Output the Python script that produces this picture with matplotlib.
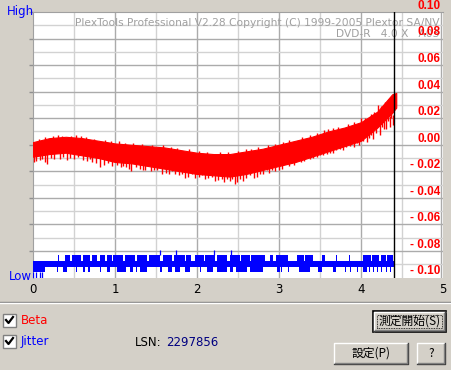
import matplotlib
matplotlib.use('Agg')
import matplotlib.pyplot as plt
from matplotlib.patches import Rectangle
from matplotlib.lines import Line2D
import numpy as np

W, H = 452, 370
BG = '#D4D0C8'

# beta band envelope
beta_x = [0, 0.2, 0.4, 0.6, 0.8, 1.0, 1.2, 1.4, 1.6, 1.8, 2.0, 2.2, 2.4, 2.6, 2.8,
          3.0, 3.2, 3.4, 3.6, 3.8, 4.0, 4.2, 4.38, 4.43]
beta_up = [0.002, 0.005, 0.006, 0.005, 0.003, 0.001, 0.000, -0.001, -0.002, -0.004,
           -0.006, -0.007, -0.007, -0.005, -0.003, 0.000, 0.003, 0.006, 0.010, 0.013,
           0.017, 0.025, 0.038, 0.039]
beta_low = [-0.009, -0.007, -0.006, -0.008, -0.010, -0.013, -0.014, -0.016, -0.018,
            -0.020, -0.022, -0.023, -0.024, -0.022, -0.019, -0.016, -0.013, -0.009,
            -0.005, -0.001, 0.003, 0.013, 0.024, 0.028]
# downward spikes of beta
spike_x = [0.012, 0.04, 0.085, 0.11, 0.146, 0.175, 0.22, 0.26, 0.33, 0.37, 0.41, 0.45,
           0.50, 0.55, 0.61, 0.66, 0.69, 0.72, 0.77, 0.82, 0.87, 0.92, 0.96, 1.02, 1.07,
           1.10, 1.14, 1.17, 1.20, 1.25, 1.30, 1.34, 1.37, 1.44, 1.47, 1.51, 1.57, 1.62,
           1.66, 1.70, 1.73, 1.78, 1.82, 1.85, 1.89, 1.94, 1.98, 2.02, 2.06, 2.10, 2.14,
           2.18, 2.22, 2.26, 2.30, 2.33, 2.36, 2.40, 2.43, 2.46, 2.49, 2.52, 2.56, 2.60,
           2.65, 2.69, 2.73, 2.77, 2.81, 2.85, 2.88, 2.91, 2.95, 3.00, 3.04, 3.09, 3.12,
           3.15, 3.18, 3.22, 3.27, 3.30, 3.34, 3.38, 3.42, 3.46, 3.50, 3.54, 3.58, 3.62,
           3.66, 3.70, 3.74, 3.78, 3.82, 3.86, 3.91, 3.95, 3.98, 4.03, 4.07, 4.10, 4.12,
           4.15, 4.18, 4.23, 4.26, 4.28, 4.31, 4.33, 4.35, 4.37, 4.39]
spike_val = [-0.013, -0.012, -0.0117, -0.011, -0.013, -0.0142, -0.010, -0.011, -0.0104,
             -0.009, -0.0112, -0.010, -0.011, -0.009, -0.0117, -0.012, -0.011, -0.013,
             -0.014, -0.0167, -0.015, -0.0137, -0.016, -0.0155, -0.017, -0.016, -0.0167,
             -0.018, -0.0198, -0.017, -0.018, -0.019, -0.0192, -0.020, -0.019, -0.0192,
             -0.0217, -0.021, -0.022, -0.020, -0.0217, -0.023, -0.022, -0.0248, -0.024,
             -0.0217, -0.025, -0.024, -0.023, -0.026, -0.025, -0.0243, -0.027, -0.0268,
             -0.026, -0.028, -0.0255, -0.027, -0.026, -0.0293, -0.028, -0.0255, -0.027,
             -0.025, -0.023, -0.025, -0.024, -0.0217, -0.022, -0.0192, -0.021, -0.0192,
             -0.020, -0.019, -0.018, -0.0142, -0.016, -0.0134, -0.015, -0.0117, -0.013,
             -0.012, -0.0079, -0.011, -0.010, -0.009, -0.008, -0.0079, -0.007, -0.006,
             -0.0059, -0.004, -0.003, -0.0042, -0.002, -0.001, -0.0017, 0.001, 0.000,
             0.003, 0.0021, 0.005, 0.007, 0.0047, 0.009, 0.0072, 0.013, 0.012, 0.0122,
             0.018, 0.0134, 0.020, 0.0147]
# upward spikes of beta
upspike_x = [0.07, 0.15, 0.24, 0.30, 0.35, 0.46, 0.52, 0.58, 0.65, 0.74, 0.88, 0.95,
             1.05, 1.12, 1.22, 1.33, 1.45, 1.58, 1.68, 1.76, 1.90, 2.02, 2.12, 2.28,
             2.38, 2.50, 2.60, 2.66, 2.74, 2.86, 2.95, 3.05, 3.12, 3.28, 3.38, 3.46,
             3.55, 3.60, 3.66, 3.72, 3.84, 3.92, 4.00, 4.05, 4.12, 4.16, 4.21, 4.25,
             4.29, 4.33]
upspike_val = [0.0045, 0.0055, 0.0065, 0.0075, 0.0068, 0.0068, 0.0070, 0.0063, 0.006,
               0.0045, 0.0035, 0.0025, 0.003, 0.0015, 0.0012, 0.0005, 0.000, -0.0005,
               -0.0015, -0.0025, -0.003, -0.0045, -0.0055, -0.0055, -0.0055, -0.005,
               -0.003, -0.0035, -0.002, -0.0005, 0.0005, 0.002, 0.0035, 0.0055, 0.0075,
               0.0085, 0.011, 0.012, 0.0125, 0.013, 0.0155, 0.017, 0.020, 0.020, 0.023,
               0.025, 0.0298, 0.029, 0.0323, 0.034]

# jitter (plotted in the same axis units as the picture shows it)
jit_x = [0.0, 4.42]
jit_top = [-0.0879, -0.0879]
jit_bot = [-0.0922, -0.0922]
jit_up_blocks = [(0.25, 0.26), (0.30, 0.31), (0.39, 0.45), (0.47, 0.59), (0.61, 0.70),
                 (0.72, 0.78), (0.82, 0.88), (0.90, 0.96), (0.98, 1.10), (1.12, 1.25),
                 (1.27, 1.39), (1.41, 1.55), (1.59, 1.70), (1.72, 1.85), (1.87, 1.93),
                 (1.98, 2.08), (2.10, 2.22), (2.24, 2.36), (2.40, 2.52), (2.54, 2.65),
                 (2.66, 2.83), (2.89, 2.93), (2.96, 3.11), (3.22, 3.30), (3.32, 3.42),
                 (3.52, 3.56), (3.70, 3.71), (3.85, 3.86), (4.03, 4.12), (4.14, 4.22),
                 (4.24, 4.30), (4.32, 4.39)]
jit_up_level = -0.0834
jit_peak_x = [1.55, 1.75, 2.21, 2.42]
jit_peak_level = -0.0796
jit_down_blocks = [(0.0, 0.146), (0.29, 0.30), (0.37, 0.41), (0.53, 0.54), (0.61, 0.63),
                   (0.67, 0.70), (0.82, 0.83), (0.90, 0.94), (1.02, 1.14), (1.18, 1.22),
                   (1.26, 1.27), (1.30, 1.39), (1.55, 1.57), (1.65, 1.69), (1.73, 1.79),
                   (1.85, 1.91), (2.04, 2.05), (2.12, 2.20), (2.24, 2.36), (2.40, 2.44),
                   (2.48, 2.61), (2.65, 2.81), (2.97, 3.01), (3.03, 3.04), (3.11, 3.12),
                   (3.24, 3.38), (3.48, 3.52), (3.66, 3.70), (3.80, 3.81), (3.87, 3.88),
                   (3.95, 3.96), (4.03, 4.07), (4.10, 4.11), (4.15, 4.16), (4.20, 4.21),
                   (4.25, 4.26), (4.30, 4.31), (4.35, 4.36), (4.40, 4.41)]
jit_down_level = -0.0962
jit_low_x = [0.0, 0.04, 0.08, 0.11]
jit_low_level = -0.1

marker_x = 4.406
x_ticks = [0, 1, 2, 3, 4, 5]
y_labels = [0.10, 0.08, 0.06, 0.04, 0.02, 0.00, -0.02, -0.04, -0.06, -0.08, -0.10]


def fx(px):
    return px / W


def fy(py):
    return 1 - py / H


fig = plt.figure(figsize=(W / 100, H / 100), dpi=100, facecolor=BG)
ax = fig.add_axes([fx(33), fy(277.5), fx(443) - fx(33), fy(12) - fy(277.5)])
ax.set_facecolor('white')
ax.set_xlim(0, 5)
ax.set_ylim(-0.1, 0.1)

# grid
for xv in np.arange(0.5, 5.0, 1.0):
    ax.axvline(xv, color='#D2D2D2', lw=1, zorder=0)
for xv in [1, 2, 3, 4]:
    ax.axvline(xv, color='#ABABAB', lw=1, zorder=0)
ax.axvline(4.98, color='#ABABAB', lw=1, zorder=0)
for i in range(-9, 10):
    yv = i * 0.01
    c = '#ABABAB' if i % 2 == 0 else '#D2D2D2'
    ax.axhline(yv, color=c, lw=1, zorder=0)

for s in ['bottom', 'right']:
    ax.spines[s].set_visible(False)
for s in ['left', 'top']:
    ax.spines[s].set_color('#A0A0A0')
ax.set_yticks(np.arange(-0.08, 0.1001, 0.02))
ax.set_yticklabels([])
ax.tick_params(axis='y', length=3, color='#909090', width=1)
ax.set_xticks(x_ticks)
ax.set_xticklabels([str(t) for t in x_ticks], fontsize=8.5)
ax.tick_params(axis='x', length=0, pad=4)

# watermark
ax.text(4.96, 0.0915, 'PlexTools Professional V2.28 Copyright (C) 1999-2005 Plextor SA/NV',
        ha='right', va='center', color='#A0A0A0', fontsize=7.65, zorder=1)
ax.text(4.96, 0.0832, 'DVD-R   4.0 X   A03', ha='right', va='center',
        color='#A0A0A0', fontsize=7.65, zorder=1)

# beta
ax.fill_between(beta_x, beta_low, beta_up, color='#FF0000', lw=0.8, edgecolor='#FF0000', zorder=3)
ax.vlines(spike_x, spike_val, np.array(spike_val) + 0.008, color='#FF0000', lw=1, zorder=3)
ax.vlines(upspike_x, np.array(upspike_val) - 0.006, upspike_val, color='#FF0000', lw=1, zorder=3)

# jitter
ax.fill_between(jit_x, jit_bot, jit_top, color='#0000FF', lw=0, zorder=3)
for a, b in jit_up_blocks:
    ax.bar(a, jit_top[0] - jit_up_level, width=max(b - a, 0.011), bottom=jit_up_level,
           align='edge', color='#0000FF', lw=0, zorder=3)
for a, b in jit_down_blocks:
    ax.bar(a, jit_bot[0] - jit_down_level, width=max(b - a, 0.011), bottom=jit_down_level,
           align='edge', color='#0000FF', lw=0, zorder=3)
ax.vlines(jit_peak_x, jit_peak_level, jit_up_level, color='#0000FF', lw=0.9, zorder=3)
ax.vlines(jit_low_x, jit_low_level, jit_down_level, color='#0000FF', lw=0.9, zorder=3)

ax.axvline(marker_x, color='black', lw=1, zorder=4)

# right-hand beta labels
for v in y_labels:
    if v < 0:
        lab = '- {:.2f}'.format(-v)
    else:
        lab = '{:.2f}'.format(v)
    ax.text(4.965, v + 0.0046, lab, ha='right', va='center', color='#FF0000',
            fontsize=8.5, fontweight='bold', family='Liberation Sans', zorder=5, clip_on=False)

fig.text(fx(7), fy(12), 'High', color='#0000FF', fontsize=8.5, va='center')
fig.text(fx(9), fy(276), 'Low', color='#0000FF', fontsize=8.5, va='center')

# separator
fig.add_artist(Line2D([0, 1], [fy(301.5), fy(301.5)], color='#808080', lw=1))
fig.add_artist(Line2D([0, 1], [fy(302.5), fy(302.5)], color='white', lw=1))


def checkbox(x, y):
    fig.add_artist(Rectangle((fx(x), fy(y + 13)), 13 / W, 13 / H, facecolor='white',
                             edgecolor='#808080', lw=1))
    fig.add_artist(Line2D([fx(x + 3), fx(x + 5.5), fx(x + 10)],
                          [fy(y + 6), fy(y + 9), fy(y + 3)], color='black', lw=1.6))


checkbox(3, 314)
checkbox(3, 335)
fig.text(fx(21), fy(321), 'Beta', color='#FF0000', fontsize=8.5, va='center')
fig.text(fx(21), fy(342), 'Jitter', color='#0000FF', fontsize=8.5, va='center')
fig.text(fx(135), fy(342), 'LSN:', color='black', fontsize=8.5, va='center')
fig.text(fx(166), fy(342), '2297856', color='#000080', fontsize=8.5, va='center')


def button(x0, y0, x1, y1, label, default=False):
    if default:
        fig.add_artist(Rectangle((fx(x0), fy(y1)), (x1 - x0) / W, (y1 - y0) / H,
                                 facecolor=BG, edgecolor='black', lw=1.2))
        x0, y0, x1, y1 = x0 + 1, y0 + 1, x1 - 1, y1 - 1
    fig.add_artist(Rectangle((fx(x0), fy(y1)), (x1 - x0) / W, (y1 - y0) / H,
                             facecolor=BG, edgecolor='none'))
    fig.add_artist(Line2D([fx(x0), fx(x0), fx(x1)], [fy(y1), fy(y0), fy(y0)],
                          color='white', lw=1))
    fig.add_artist(Line2D([fx(x0), fx(x1), fx(x1)], [fy(y1), fy(y1), fy(y0)],
                          color='#404040', lw=1))
    fig.add_artist(Line2D([fx(x0 + 1), fx(x1 - 1), fx(x1 - 1)], [fy(y1 - 1), fy(y1 - 1), fy(y0 + 1)],
                          color='#808080', lw=1))
    if default:
        fig.add_artist(Rectangle((fx(x0 + 3), fy(y1 - 3)), (x1 - x0 - 6) / W, (y1 - y0 - 6) / H,
                                 facecolor='none', edgecolor='black', lw=0.6, ls=(0, (1, 1))))
    fig.text(fx((x0 + x1) / 2), fy((y0 + y1) / 2), label, ha='center', va='center',
             fontsize=8.5, color='black', family=['Noto Sans CJK JP', 'DejaVu Sans'])


button(373, 311, 446, 332, '測定開始(S)', default=True)
button(334, 343, 408, 364, '設定(P)')
button(417, 343, 445, 364, '?')

plt.savefig('out.png', dpi=100, facecolor=BG)
